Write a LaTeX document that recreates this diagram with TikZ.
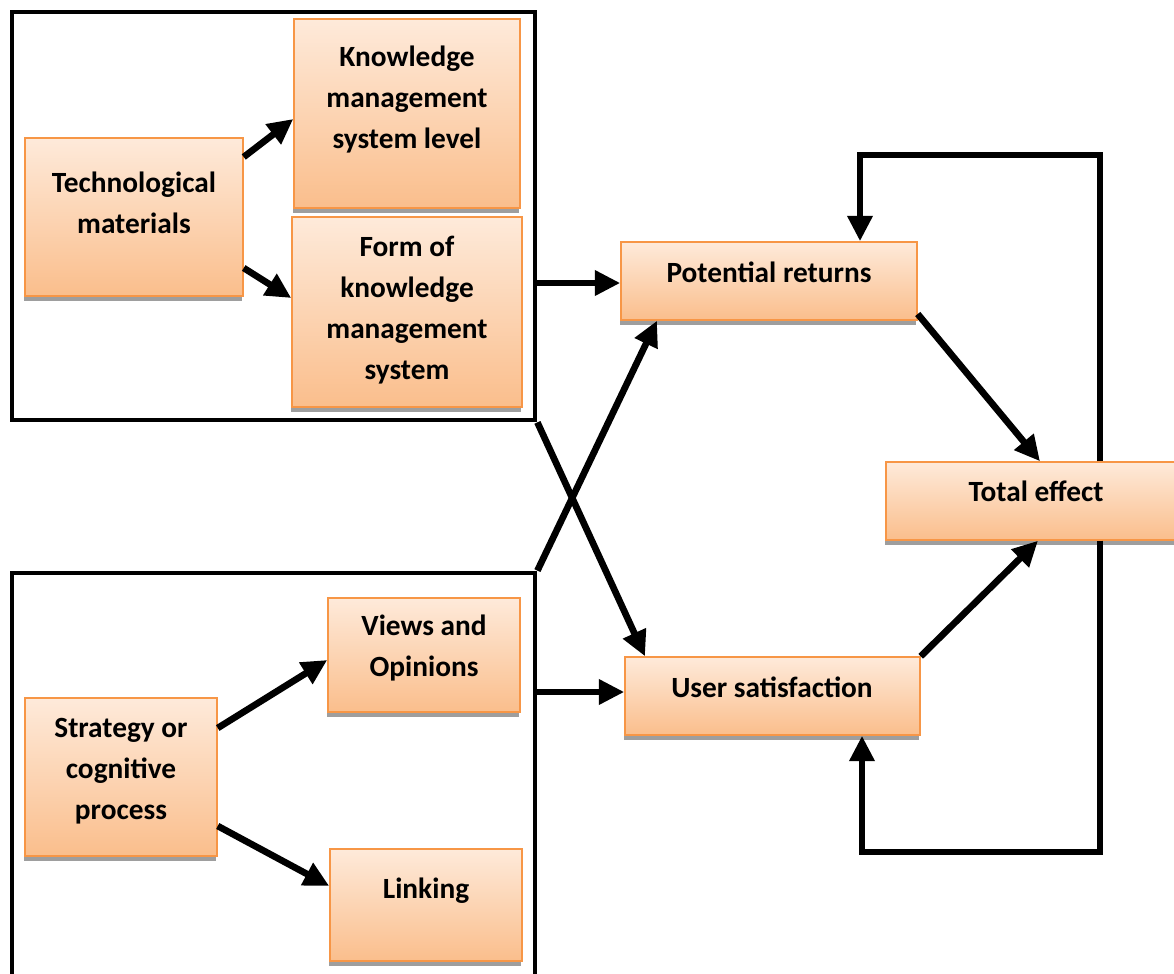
\documentclass[tikz,border=0pt]{standalone}
\usepackage{fontspec}
\setmainfont{Carlito}
\usetikzlibrary{arrows.meta,shadows}
\definecolor{boxline}{RGB}{247,150,70}
\definecolor{boxtop}{RGB}{254,234,218}
\definecolor{boxbot}{RGB}{250,190,140}
\tikzset{
  obox/.style={draw=boxline, line width=1.1pt, top color=boxtop, bottom color=boxbot,
    drop shadow={shadow xshift=-0.4pt, shadow yshift=-3.5pt, fill=black!38, opacity=1},
    inner sep=0pt},
  txt/.style={font=\fontsize{22}{30.75}\selectfont\bfseries, align=center, inner sep=0pt},
  grp/.style={draw=black, line width=3.6pt, inner sep=0pt},
  flow/.style={line width=5pt, -{Triangle[length=19pt,width=18pt]}},
  loopline/.style={line width=5pt, line join=miter}
}
% box from corner (x1,y1) to (x2,y2), in pixel units
\newcommand\obox[5]{%
  \node[obox, minimum width={(#4-#2)*0.75pt}, minimum height={(#5-#3)*0.75pt}]
    (#1) at ({(#2+#4)/2},{(#3+#5)/2}) {};}
\newcommand\gbox[5]{%
  \node[grp, minimum width={(#4-#2)*0.75pt}, minimum height={(#5-#3)*0.75pt}]
    (#1) at ({(#2+#4)/2},{(#3+#5)/2}) {};}
\begin{document}
\begin{tikzpicture}[x=0.75pt,y=-0.75pt]
\useasboundingbox (0,0) rectangle (1174,974);

% the two input groups
\gbox{topgrp}{12}{12}{535}{420}
\gbox{botgrp}{12}{573}{535}{1020}

% boxes
\obox{kms}{294}{19}{520}{208}
\obox{tech}{25}{138}{243}{296}
\obox{form}{292}{217}{522}{407}
\obox{pr}{621}{242}{917}{320}
\obox{te}{886}{462}{1190}{540}
\obox{us}{625}{657}{920}{735}
\obox{vo}{328}{598}{520}{712}
\obox{sc}{25}{698}{217}{856}
\obox{link}{330}{849}{522}{961}

% labels
\node[txt] (kms-t)  at (407,100)   {Knowledge\\management\\system level};
\node[txt] (tech-t) at (134,202.5) {Technological\\materials};
\node[txt] (form-t) at (407,310.5) {Form of\\knowledge\\management\\system};
\node[txt] (pr-t)   at (769,272)   {Potential returns};
\node[txt] (te-t)   at (1036,491)  {Total effect};
\node[txt] (us-t)   at (772,687)   {User satisfaction};
\node[txt] (vo-t)   at (424,648.5) {Views and\\Opinions};
\node[txt] (sc-t)   at (121,771.5) {Strategy or\\cognitive\\process};
\node[txt] (link-t) at (426,891)   {Linking};

% arrows inside the groups
\draw[flow] (tech.east |- 0,157) -- (kms.west |- 0,119);
\draw[flow] (tech.east |- 0,268) -- (form.west |- 0,298);
\draw[flow] (sc.east |- 0,728) -- (vo.west |- 0,660);
\draw[flow] (sc.east |- 0,826) -- (link.west |- 0,886);

% groups to outcomes
\draw[flow] (topgrp.east |- 0,283) -- (pr.west |- 0,283);
\draw[flow] (botgrp.east |- 0,692) -- (us.west |- 0,692);
\draw[flow] (topgrp.south east) -- (us.north -| 645,0);
\draw[flow] (botgrp.north east) -- (pr.south -| 657,0);

% outcomes to total effect
\draw[flow] (pr.east |- 0,314) -- (te.north -| 1040,0);
\draw[flow] (us.north east) -- (te.south -| 1038,0);

% feedback loops
\draw[loopline, -{Triangle[length=19pt,width=18pt]}]
  (te.north -| 1100,0) -- (1100,155) -- (860,155) -- (pr.north -| 860,0);
\draw[loopline, -{Triangle[length=19pt,width=18pt]}]
  (te.south -| 1100,0) -- (1100,852) -- (862,852) -- (us.south -| 862,0);
\end{tikzpicture}
\end{document}
